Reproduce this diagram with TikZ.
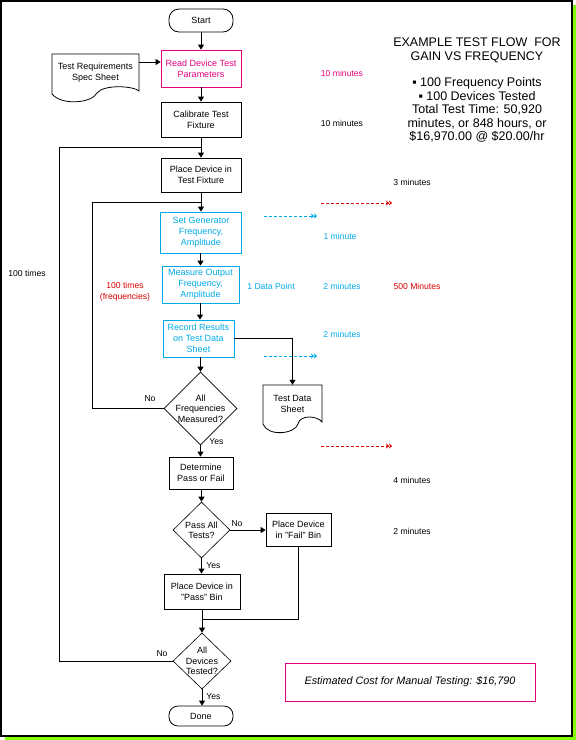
\documentclass[tikz,border=0pt]{standalone}
\usepackage{fontspec}
\setmainfont{Liberation Sans}
\usetikzlibrary{arrows.meta,shapes.geometric,calc}
\definecolor{mag}{RGB}{228,0,124}
\definecolor{cy}{RGB}{0,170,230}
\definecolor{rd}{RGB}{215,0,0}
\definecolor{lime}{RGB}{128,255,0}
\begin{document}
\begin{tikzpicture}[x=1pt,y=-1pt,
  box/.style={draw, line width=0.8pt, inner sep=0pt, align=center, font=\fontsize{9}{11}\selectfont},
  term/.style={box, rounded corners=10pt},
  cbox/.style={box, draw=cy, text=cy},
  dia/.style={draw, diamond, line width=0.6pt, inner sep=0pt},
  diatext/.style={align=center, font=\fontsize{9}{10.3}\selectfont, inner sep=0pt},
  doc/.style={inner sep=0pt, align=center, font=\fontsize{9}{11}\selectfont},
  arr/.style={line width=1pt, -{Triangle[length=5pt,width=6pt]}},
  ln/.style={line width=1pt},
  lbl/.style={font=\fontsize{8.6}{11}\selectfont, inner sep=0pt, align=center},
  darr/.style={line width=0.8pt, dash pattern=on 3pt off 2pt, -{Stealth[length=3pt,width=5pt]Stealth[length=3pt,width=5pt]}}
]
\useasboundingbox (0,0) rectangle (576,740);
% frame with shadow
\fill[lime] (5,736) rectangle (576,740);
\fill[lime] (572,5) rectangle (576,740);
\draw[line width=1.5pt] (1,1) rectangle (572,736);

% title block
\node[font=\fontsize{12.5}{14}\selectfont, align=center, inner sep=0pt] (title) at (477,50) {EXAMPLE TEST FLOW~~FOR\\GAIN VS FREQUENCY};
\node[font=\fontsize{12.5}{13.5}\selectfont, align=center, inner sep=0pt] (stats) at (477,110) {▪ 100 Frequency Points\\▪ 100 Devices Tested\\Total Test Time: 50,920\\minutes, or 848 hours, or\\\$16,970.00 @ \$20.00/hr};

% nodes
\node[term, minimum width=64pt, minimum height=23pt] (start) at (201,20.5) {Start};
\node[box, draw=mag, text=mag, minimum width=80pt, minimum height=37pt] (read) at (201,68.5) {Read Device Test\\Parameters};
\node[doc, minimum width=87pt, minimum height=37pt] (spec) at (95.5,72.5) {Test Requirements\\Spec Sheet};
\draw[line width=0.8pt] (139,91) .. controls (134,86) and (104,84) .. (97,93) .. controls (92,103) and (62,106) .. (52,94) -- (52,54) -- (139,54) -- cycle;
\node[box, minimum width=80pt, minimum height=35pt] (calib) at (201,119.5) {Calibrate Test\\Fixture};
\node[box, minimum width=80pt, minimum height=34pt] (place) at (201,175) {Place Device in\\Test Fixture};
\node[cbox, minimum width=81pt, minimum height=41pt] (setgen) at (201,232.5) {Set Generator\\Frequency,\\Amplitude};
\node[cbox, minimum width=77pt, minimum height=37pt] (measure) at (200.5,284.5) {Measure Output\\Frequency,\\Amplitude};
\node[cbox, minimum width=71pt, minimum height=37pt] (record) at (198.5,338.5) {Record Results\\on Test Data\\Sheet};
\node[dia, minimum width=73pt, minimum height=73pt, label={[diatext]center:All\\Frequencies\\Measured?}] (allfreq) at (200.5,408.5) {};
\node[doc, minimum width=59pt, minimum height=37pt] (datasheet) at (292.5,403.5) {Test Data\\Sheet};
\draw[line width=0.8pt] (322,422) .. controls (318,416) and (300,414) .. (298,424) .. controls (295,434) and (268,437) .. (263,424) -- (263,385) -- (322,385) -- cycle;
\node[box, minimum width=64pt, minimum height=32pt] (determine) at (201,473) {Determine\\Pass or Fail};
\node[dia, minimum width=57pt, minimum height=56pt, label={[diatext]center:Pass All\\Tests?}] (passall) at (201.5,530) {};
\node[box, minimum width=65pt, minimum height=33pt] (fail) at (298.5,530) {Place Device\\in "Fail" Bin};
\node[box, minimum width=76pt, minimum height=35pt] (passbin) at (202,591.5) {Place Device in\\"Pass" Bin};
\node[dia, minimum width=58pt, minimum height=56pt, label={[diatext]center:All\\Devices\\Tested?}] (alldev) at (202,661) {};
\node[term, minimum width=64pt, minimum height=20pt, rounded corners=9pt] (done) at (201,716) {Done};

% connector coordinates
\coordinate (oj) at (201,147);
\coordinate (ol) at (59,147);
\coordinate (ij) at (201,202);
\coordinate (il) at (92,202);
\coordinate (mj) at (202,619);

% connectors
\draw[arr] (start.south -| read.north) -- (read.north);
\draw[arr] (spec.east |- 0,62) -- (read.west |- 0,62);
\draw[arr] (read.south) -- (calib.north);
\draw[ln] (calib.south) -- (oj);
\draw[arr] (oj) -- (place.north);
\draw[ln] (alldev.west) -| (ol) -- (oj);
\draw[ln] (place.south) -- (ij);
\draw[arr] (ij) -- (setgen.north);
\draw[ln] (allfreq.west) -| (il) -- (ij);
\draw[arr] (setgen.south -| measure.north) -- (measure.north);
\draw[arr] (measure.south -| 200,0) -- (record.north -| 200,0);
\draw[arr] (record.south -| allfreq.north) -- (allfreq.north);
\draw[arr] (record.east) -| (datasheet.north);
\draw[arr] (allfreq.south) -- (allfreq.south |- determine.north);
\draw[arr] (determine.south -| passall.north) -- (passall.north);
\draw[arr] (passall.east) -- (fail.west);
\draw[arr] (passall.south) -- (passall.south |- passbin.north);
\draw[ln] (fail.south) |- (mj);
\draw[ln] (passbin.south) -- (mj);
\draw[arr] (mj) -- (alldev.north);
\draw[arr] (alldev.south) -- (alldev.south |- done.north);

% decision labels
\node[lbl] (no1) at (150,399) {No};
\node[lbl] (yes1) at (216.5,442) {Yes};
\node[lbl] (no2) at (237,524) {No};
\node[lbl] (yes2) at (213.5,566) {Yes};
\node[lbl] (no3) at (162,654) {No};
\node[lbl] (yes3) at (213.5,697) {Yes};

% side labels
\node[lbl, text=mag] (t1) at (342,73) {10 minutes};
\node[lbl] (t2) at (342,123) {10 minutes};
\node[lbl] (t3) at (412,182) {3 minutes};
\node[lbl, text=cy] (t4) at (340,236) {1 minute};
\node[lbl, text=cy] (t5) at (271,286) {1 Data Point};
\node[lbl, text=cy] (t6) at (342,286) {2 minutes};
\node[lbl, text=rd] (t7) at (417,286) {500 Minutes};
\node[lbl, text=cy] (t8) at (342,334) {2 minutes};
\node[lbl] (t9) at (412,480) {4 minutes};
\node[lbl] (t10) at (412,531) {2 minutes};
\node[lbl] (t11) at (27,273) {100 times};
\node[lbl, text=rd] (t12) at (125,291.5) {100 times\\(frequencies)};

% dashed arrows
\coordinate (d1a) at (321,203); \coordinate (d1b) at (392,203);
\coordinate (d2a) at (264,216); \coordinate (d2b) at (317,216);
\coordinate (d3a) at (264,356); \coordinate (d3b) at (317,356);
\coordinate (d4a) at (321,446); \coordinate (d4b) at (392,446);
\draw[darr, rd] (d1a) -- (d1b);
\draw[darr, cy] (d2a) -- (d2b);
\draw[darr, cy] (d3a) -- (d3b);
\draw[darr, rd] (d4a) -- (d4b);

% cost box
\node[draw=mag, line width=0.8pt, minimum width=250pt, minimum height=38pt, inner sep=0pt, font=\fontsize{10.8}{13}\selectfont\itshape] (cost) at (410,682) {Estimated Cost for Manual Testing: \$16,790};
\end{tikzpicture}
\end{document}
